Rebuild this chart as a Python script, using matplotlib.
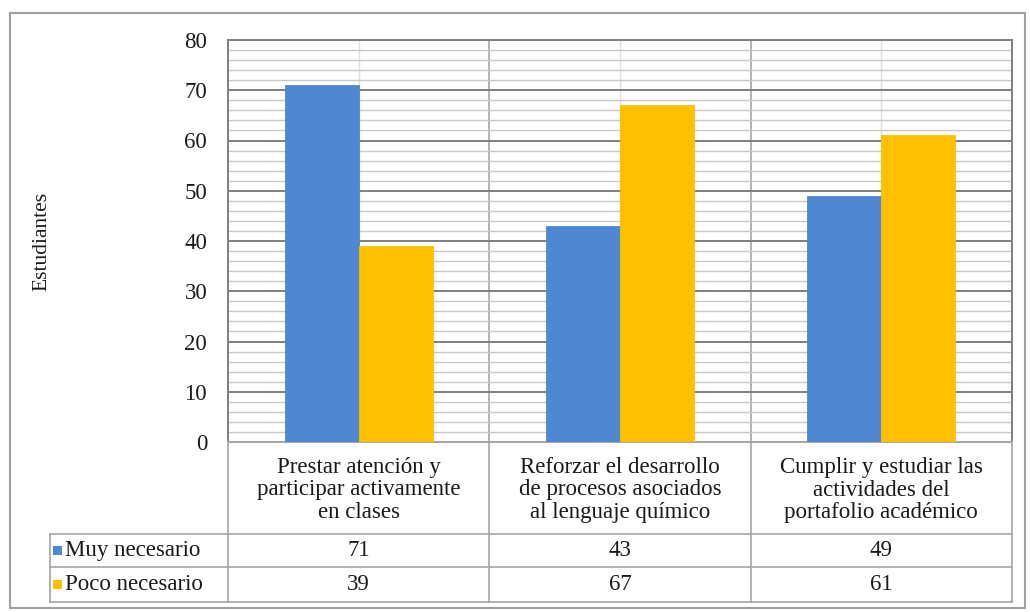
import matplotlib.pyplot as plt
from matplotlib.patches import Rectangle
from matplotlib.ticker import MultipleLocator

plt.rcParams['font.family'] = ['Liberation Serif', 'DejaVu Serif']

#%% datos
categorias = ['Prestar atención y\nparticipar activamente\nen clases',
              'Reforzar el desarrollo\nde procesos asociados\nal lenguaje químico',
              'Cumplir y estudiar las\nactividades del\nportafolio académico']
series = ['Muy necesario', 'Poco necesario']
muy_necesario = [71, 43, 49]
poco_necesario = [39, 67, 61]
colores = ['#4F87D2', '#FFC000']
valores = [muy_necesario, poco_necesario]

#%% figura
fig = plt.figure(figsize=(10.3, 6.12), dpi=100)
ax = fig.add_axes([228/1030, 1 - 442/612, 784/1030, 402/612])

x = list(range(len(categorias)))
ancho = 0.283
for i, (vals, col) in enumerate(zip(valores, colores)):
    off = (i - 0.5) * ancho
    ax.bar([xi + off for xi in x], vals, width=ancho, color=col,
           edgecolor=col, linewidth=0.6, zorder=3)

ax.set_xlim(-0.5, len(categorias) - 0.5)
ax.set_ylim(0, 80)
ax.yaxis.set_major_locator(MultipleLocator(10))
ax.yaxis.set_minor_locator(MultipleLocator(2))
ax.grid(which='minor', axis='y', color='#C8C8C8', linewidth=1.0, zorder=0)
ax.grid(which='major', axis='y', color='#7F7F7F', linewidth=1.4, zorder=1)
# lineas verticales: centros y limites de categorias
for xi in x:
    ax.axvline(xi, color='#E0E0E0', linewidth=1.0, zorder=0.5)
for xb in [k + 0.5 for k in x[:-1]]:
    ax.axvline(xb, color='#A6A6A6', linewidth=1.2, zorder=1)

ax.set_xticks([])
ax.tick_params(axis='y', which='both', length=0, labelsize=16.5, pad=15,
               labelcolor='#1a1a1a')
for s in ax.spines.values():
    s.set_color('#7F7F7F')
    s.set_linewidth(1.4)
ax.spines['bottom'].set_color('#A6A6A6')

ax.set_ylabel('Estudiantes', fontsize=15.5, color='#1a1a1a')
ax.yaxis.set_label_coords((51 - 228) / 784, 0.5)

#%% tabla de datos (coordenadas de ejes)
t = ax.transAxes
y_fila = [0, -92/402, -125/402, -160/402]
x_izq = (50 - 228) / 784
lc = '#A6A6A6'
lw = 1.2

# lineas horizontales
for yy in y_fila[1:]:
    ax.plot([x_izq, 1], [yy, yy], transform=t, color=lc, lw=lw, clip_on=False)
# lineas verticales
ncat = len(categorias)
for k in range(ncat + 1):
    xf = k / ncat
    ax.plot([xf, xf], [0, y_fila[-1]], transform=t, color=lc, lw=lw, clip_on=False)
ax.plot([x_izq, x_izq], [y_fila[1], y_fila[-1]], transform=t, color=lc, lw=lw,
        clip_on=False)

for k, cat in enumerate(categorias):
    xc = (k + 0.5) / ncat
    ax.text(xc, (y_fila[0] + y_fila[1]) / 2 - 2/402, cat, transform=t,
            ha='center', va='center', fontsize=16.5, linespacing=1.1,
            color='#1a1a1a')

for r, (nombre, vals, col) in enumerate(zip(series, valores, colores)):
    yc = (y_fila[r + 1] + y_fila[r + 2]) / 2
    ax.add_patch(Rectangle((x_izq + 3/784, yc - 4.5/402), 9/784, 9/402,
                           transform=t, facecolor=col, edgecolor='none',
                           clip_on=False))
    ax.text(x_izq + 15/784, yc, nombre, transform=t, ha='left', va='center',
            fontsize=16.5, color='#1a1a1a')
    for k, v in enumerate(vals):
        ax.text((k + 0.5) / ncat, yc, str(v), transform=t, ha='center',
                va='center', fontsize=16.5, color='#1a1a1a')

#%% borde exterior
fig.patches.append(Rectangle((10/1030, 1 - 608/612), 1015/1030, 595/612,
                             transform=fig.transFigure, fill=False,
                             edgecolor='#A0A0A0', linewidth=1.5))

fig.savefig('out.png', dpi=100)
